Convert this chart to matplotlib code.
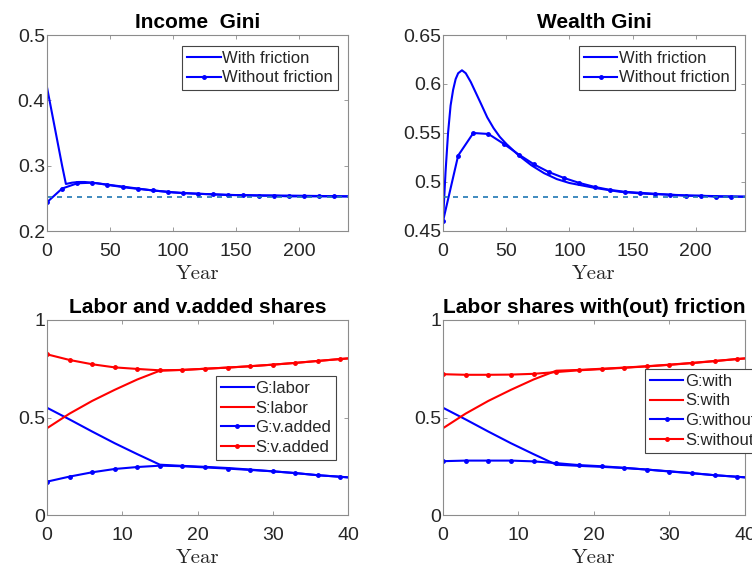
import matplotlib
matplotlib.use("Agg")
import matplotlib.pyplot as plt
import numpy as np

# ---------------- data ----------------
# Income Gini
inc_with_years = [0, 3, 6, 9, 12, 15, 20, 25, 30, 40, 50, 65, 85, 100, 120, 150, 200, 240]
inc_with_vals = [0.420, 0.390, 0.360, 0.330, 0.300, 0.272, 0.274, 0.275, 0.275, 0.273, 0.270,
                 0.266, 0.262, 0.259, 0.257, 0.255, 0.254, 0.253]
inc_wo_years = [0, 12, 24, 36, 48, 60, 72, 84, 96, 108, 120, 132, 144, 156, 168, 180, 192,
                204, 216, 228, 240]
inc_wo_vals = [0.244, 0.265, 0.273, 0.274, 0.271, 0.268, 0.265, 0.262, 0.260, 0.258, 0.257,
               0.256, 0.255, 0.255, 0.254, 0.254, 0.253, 0.253, 0.253, 0.253, 0.253]
inc_ss = 0.252

# Wealth Gini
wea_with_years = [0, 2, 4, 6, 8, 10, 12, 15, 18, 22, 26, 30, 35, 40, 45, 50, 60, 70, 80, 90,
                  100, 120, 140, 160, 180, 200, 240]
wea_with_vals = [0.460, 0.510, 0.550, 0.578, 0.594, 0.605, 0.611, 0.614, 0.611, 0.602, 0.591,
                 0.580, 0.566, 0.555, 0.546, 0.539, 0.527, 0.517, 0.509, 0.503, 0.499, 0.494,
                 0.490, 0.488, 0.487, 0.486, 0.485]
wea_wo_years = inc_wo_years
wea_wo_vals = [0.460, 0.527, 0.550, 0.549, 0.539, 0.528, 0.518, 0.510, 0.504, 0.499, 0.495,
               0.492, 0.490, 0.489, 0.488, 0.487, 0.486, 0.486, 0.485, 0.485, 0.485]
wea_ss = 0.485

# Labor and value-added shares (years 0..39 step 3, plus 40)
share_years = [0, 3, 6, 9, 12, 15, 18, 21, 24, 27, 30, 33, 36, 39, 40]
g_labor = [0.550, 0.490, 0.428, 0.368, 0.312, 0.258, 0.252, 0.247, 0.241, 0.233, 0.224,
           0.215, 0.204, 0.196, 0.193]
s_labor = [0.445, 0.520, 0.585, 0.642, 0.695, 0.740, 0.744, 0.750, 0.756, 0.763, 0.771,
           0.780, 0.790, 0.800, 0.803]
g_vadded = [0.171, 0.197, 0.219, 0.236, 0.246, 0.253, 0.250, 0.244, 0.238, 0.231, 0.224,
            0.215, 0.204, 0.196, 0.193]
s_vadded = [0.824, 0.795, 0.773, 0.757, 0.749, 0.742, 0.744, 0.750, 0.756, 0.763, 0.771,
            0.780, 0.790, 0.800, 0.803]
g_without = [0.276, 0.279, 0.279, 0.279, 0.275, 0.266, 0.256, 0.250, 0.242, 0.233, 0.223,
             0.214, 0.204, 0.196, 0.193]
s_without = [0.722, 0.719, 0.719, 0.720, 0.724, 0.733, 0.742, 0.748, 0.755, 0.762, 0.770,
             0.779, 0.789, 0.800, 0.803]

titles = ["Income  Gini", "Wealth Gini", "Labor and v.added shares",
          "Labor shares with(out) friction"]
top_legend = ["With friction", "Without friction"]
bl_legend = ["G:labor", "S:labor", "G:v.added", "S:v.added"]
br_legend = ["G:with", "S:with", "G:without", "S:without"]
top_xticks = [0, 50, 100, 150, 200]
bot_xticks = [0, 10, 20, 30, 40]

# ---------------- style ----------------
plt.rcParams['font.family'] = ['Liberation Sans', 'DejaVu Sans']
BLUE = (0, 0, 1)
RED = (1, 0, 0)
DASH = '#1f77b4'
SPINE = '#8c8c8c'
TXT = '#262626'
LW = 1.5

fig = plt.figure(figsize=(7.52, 5.70), dpi=100)
W, H = 752, 570


def add_ax(l, t, r, b):
    return fig.add_axes([l / W, 1 - b / H, (r - l) / W, (b - t) / H])


axs = [add_ax(47, 35, 348, 231), add_ax(443, 35, 745, 231),
       add_ax(47, 320, 348, 515), add_ax(443, 320, 745, 515)]


def style(ax, title):
    for s in ax.spines.values():
        s.set_color(SPINE)
        s.set_linewidth(0.8)
    ax.tick_params(direction='in', length=3, width=0.6, color=SPINE, labelcolor=TXT,
                   labelsize=14, top=True, right=True)
    ax.tick_params(axis='x', pad=9)
    ax.tick_params(axis='y', pad=1.5)
    ax.set_title(title, fontsize=15, fontweight='bold', color='black', pad=5)
    ax.set_xlabel("Year", fontname='cmr10', fontsize=15, color=TXT, labelpad=3)


def legend(ax, labels, anchor):
    lg = ax.legend(labels, loc='upper left', bbox_to_anchor=anchor, fontsize=12,
                   frameon=True, fancybox=False, framealpha=1, edgecolor='#444444',
                   handlelength=2.0, handletextpad=0.1, labelspacing=0.28,
                   borderpad=0.3, borderaxespad=0)
    lg.get_frame().set_linewidth(0.8)
    for t in lg.get_texts():
        t.set_color(TXT)
    return lg


mk = dict(marker='.', markersize=5)

# Income Gini
ax = axs[0]
ax.plot(inc_with_years, inc_with_vals, color=BLUE, lw=LW)
ax.plot(inc_wo_years, inc_wo_vals, color=BLUE, lw=LW, markevery=slice(0, 20), **mk)
ax.axhline(inc_ss, color=DASH, lw=1.2, ls=(0, (3, 3)))
ax.set_xlim(0, 239)
ax.set_ylim(0.2, 0.5)
ax.set_xticks(top_xticks)
ax.set_yticks([0.2, 0.3, 0.4, 0.5])
ax.set_yticklabels(["0.2", "0.3", "0.4", "0.5"])
style(ax, titles[0])
legend(ax, top_legend, (0.45, 0.945))

# Wealth Gini
ax = axs[1]
ax.plot(wea_with_years, wea_with_vals, color=BLUE, lw=LW)
ax.plot(wea_wo_years, wea_wo_vals, color=BLUE, lw=LW, markevery=slice(0, 20), **mk)
ax.axhline(wea_ss, color=DASH, lw=1.2, ls=(0, (3, 3)))
ax.set_xlim(0, 239)
ax.set_ylim(0.45, 0.65)
ax.set_xticks(top_xticks)
ax.set_yticks([0.45, 0.5, 0.55, 0.6, 0.65])
ax.set_yticklabels(["0.45", "0.5", "0.55", "0.6", "0.65"])
style(ax, titles[1])
legend(ax, top_legend, (0.45, 0.945))

# Labor and v.added shares
ax = axs[2]
ax.plot(share_years, g_labor, color=BLUE, lw=LW)
ax.plot(share_years, s_labor, color=RED, lw=LW)
ax.plot(share_years, g_vadded, color=BLUE, lw=LW, markevery=slice(0, 14), **mk)
ax.plot(share_years, s_vadded, color=RED, lw=LW, markevery=slice(0, 14), **mk)
ax.set_xlim(0, 40)
ax.set_ylim(0, 1)
ax.set_xticks(bot_xticks)
ax.set_yticks([0, 0.5, 1])
ax.set_yticklabels(["0", "0.5", "1"])
style(ax, titles[2])
legend(ax, bl_legend, (0.56, 0.713))

# Labor shares with(out) friction
ax = axs[3]
ax.plot(share_years, g_labor, color=BLUE, lw=LW)
ax.plot(share_years, s_labor, color=RED, lw=LW)
ax.plot(share_years, g_without, color=BLUE, lw=LW, markevery=slice(0, 14), **mk)
ax.plot(share_years, s_without, color=RED, lw=LW, markevery=slice(0, 14), **mk)
ax.set_xlim(0, 40)
ax.set_ylim(0, 1)
ax.set_xticks(bot_xticks)
ax.set_yticks([0, 0.5, 1])
ax.set_yticklabels(["0", "0.5", "1"])
style(ax, titles[3])
legend(ax, br_legend, (0.669, 0.75))

fig.savefig("out.png", dpi=100)
